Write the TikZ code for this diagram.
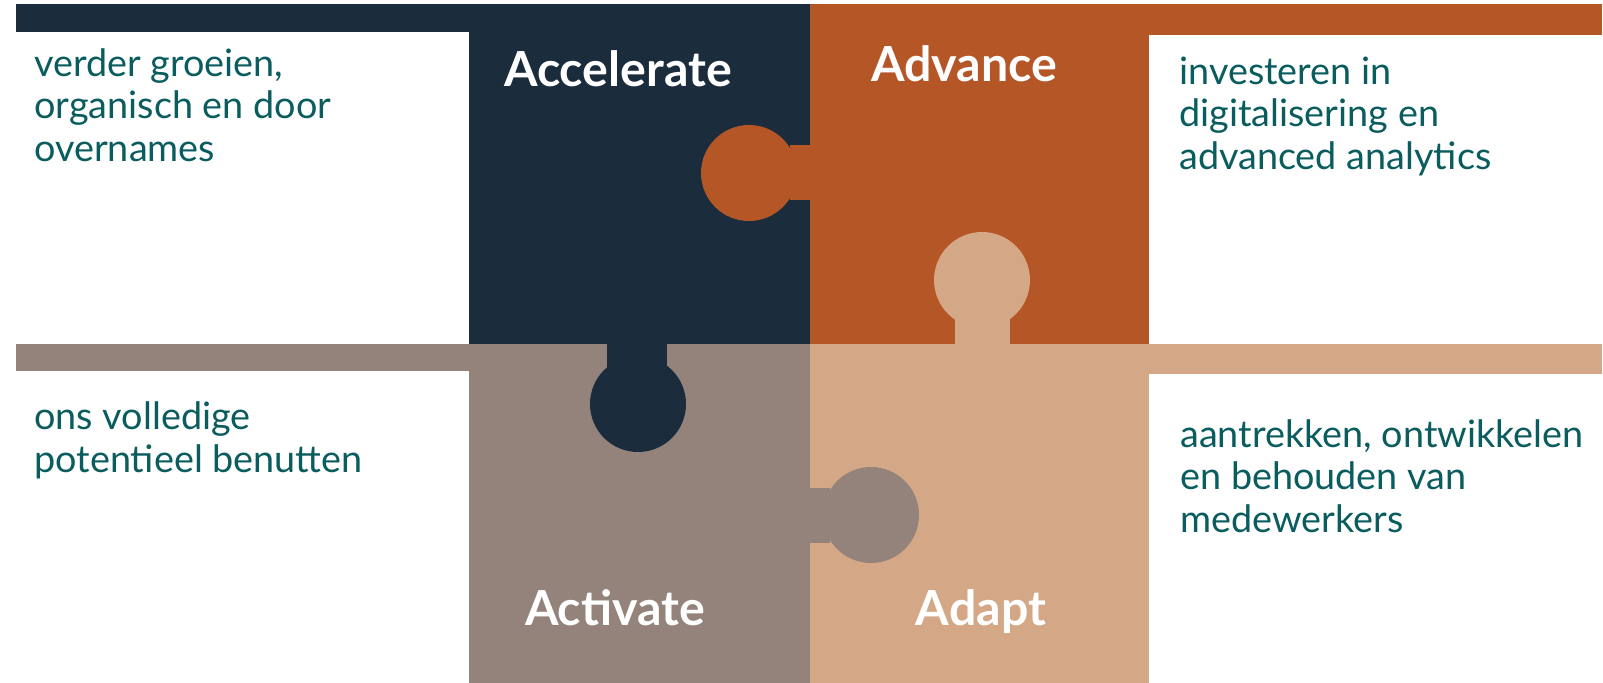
\documentclass[tikz,border=0pt]{standalone}
\usepackage{fontspec}
\setmainfont{Lato}
\usepackage{tikz}
\definecolor{accnavy}{HTML}{1B2D3D}
\definecolor{advorange}{HTML}{B55627}
\definecolor{actgrey}{HTML}{93837A}
\definecolor{adptan}{HTML}{D4A886}
\definecolor{textteal}{HTML}{0A5C5E}
\tikzset{
  piecetitle/.style={text=white,font=\fontsize{27.5}{33}\selectfont\bfseries,
    anchor=base,inner sep=0pt},
  piecetext/.style={text=textteal,font=\fontsize{21.5}{24.1}\selectfont,
    align=left,anchor=base west,inner sep=0pt}
}
\begin{document}
\begin{tikzpicture}[x=0.02cm,y=-0.02cm]
  \useasboundingbox (0,0) rectangle (1603,683);
  % bands and squares
  \fill[accnavy] (16,4) rectangle (810,32);
  \fill[accnavy] (469,4) rectangle (810,344);
  \fill[advorange] (810,4) rectangle (1602,35);
  \fill[advorange] (810,4) rectangle (1149,344);
  \fill[actgrey] (16,344) rectangle (469,371);
  \fill[actgrey] (469,344) rectangle (810,683);
  \fill[adptan] (1149,344) rectangle (1602,374);
  \fill[adptan] (810,344) rectangle (1149,683);
  % knobs
  \fill[advorange] (790,145) rectangle (810,200);
  \fill[advorange] (749,173) circle[radius=48];
  \fill[adptan] (955,317) rectangle (1010,344);
  \fill[adptan] (982,280) circle[radius=48];
  \fill[accnavy] (607,344) rectangle (667,367);
  \fill[accnavy] (638,404) circle[radius=48];
  \fill[actgrey] (810,488) rectangle (830,543);
  \fill[actgrey] (871,515) circle[radius=48];
  % titles
  \node[piecetitle] (accelerate) at (618,86) {Accelerate};
  \node[piecetitle] (advance) at (964,81) {Advance};
  \node[piecetitle] (activate) at (615,625) {Activate};
  \node[piecetitle] (adapt) at (981,625) {Adapt};
  % descriptions (anchored on the last line)
  \node[piecetext] (acceltext) at (34,161) {verder groeien,\\organisch en door\\overnames};
  \node[piecetext] (advtext) at (1179,169) {investeren in\\digitalisering en\\advanced analytics};
  \node[piecetext] (acttext) at (34,472) {ons volledige\\potentieel benutten};
  \node[piecetext] (adapttext) at (1180,532) {aantrekken, ontwikkelen\\en behouden van\\medewerkers};
\end{tikzpicture}
\end{document}
